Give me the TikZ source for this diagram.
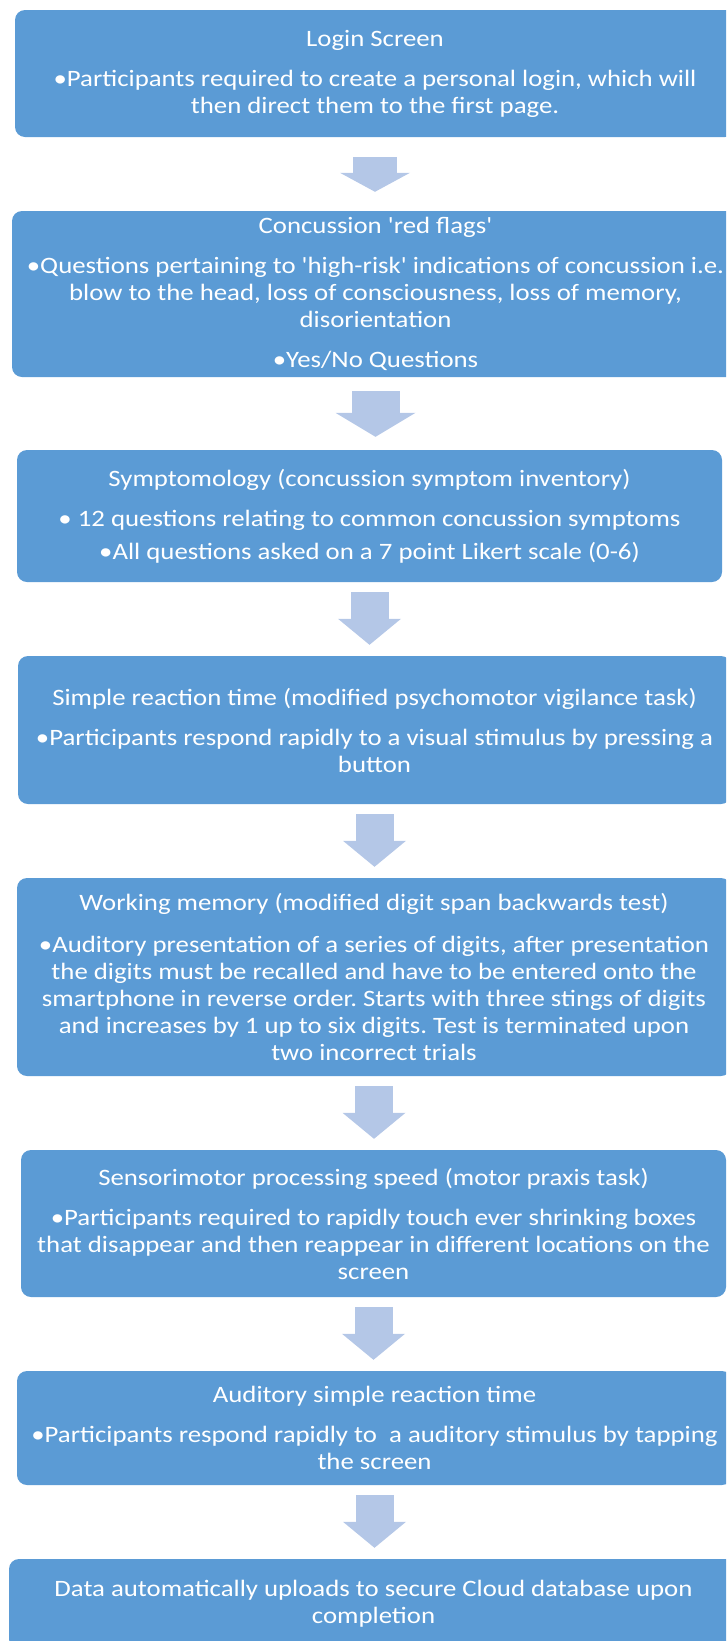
\documentclass[tikz,border=0pt]{standalone}
\usepackage{fontspec}
\setmainfont{Carlito}[Ligatures=TeXOff, FakeStretch=1.14]
\usetikzlibrary{arrows.meta}
\definecolor{boxblue}{RGB}{91,155,213}
\definecolor{arrowblue}{RGB}{180,199,231}
\frenchspacing

\begin{document}
\begin{tikzpicture}[x=1pt, y=-1pt,
	stage/.style={fill=boxblue, rounded corners=10pt, text=white, align=center, inner sep=0pt,
		font=\fontsize{23.5}{27}\selectfont},
	flow/.style={arrowblue, line width=38pt, line cap=butt,
		-{Triangle[width=63pt, length=26pt, line width=0pt]}, shorten <=10pt, shorten >=11pt}]
	\useasboundingbox (0,0) rectangle (726,1641);
	\clip (0,0) rectangle (726,1641);

	\node[stage, minimum width=720pt, minimum height=127pt] (login) at (375, 73.5)
		{Login Screen\\[13pt]
		•Participants required to create a personal login, which will\\
		then direct them to the first page.};
	\node[stage, minimum width=727pt, minimum height=166pt] (flags) at (375.5, 294)
		{Concussion 'red flags'\\[13pt]
		•Questions pertaining to 'high-risk' indications of concussion i.e.\hspace*{12pt}\\
		blow to the head, loss of consciousness, loss of memory,\\
		disorientation\\[13pt]
		•Yes/No Questions};
	\node[stage, minimum width=705pt, minimum height=132pt] (symptoms) at (369.5, 516)
		{Symptomology (concussion symptom inventory)\\[13pt]
		• 12 questions relating to common concussion symptoms\\[6pt]
		•All questions asked on a 7 point Likert scale (0-6)};
	\node[stage, minimum width=713pt, minimum height=148pt] (simple) at (374.5, 730)
		{Simple reaction time (modified psychomotor vigilance task)\\[13pt]
		•Participants respond rapidly to a visual stimulus by pressing a\\
		button};
	\node[stage, minimum width=714pt, minimum height=198pt] (memory) at (374, 977)
		{Working memory (modified digit span backwards test)\\[15pt]
		•Auditory presentation of a series of digits, after presentation\\
		the digits must be recalled and have to be entered onto the\\
		smartphone in reverse order. Starts with three stings of digits\\
		and increases by 1 up to six digits. Test is terminated upon\\
		two incorrect trials};
	\node[stage, minimum width=705pt, minimum height=147pt] (motor) at (373.5, 1223.5)
		{Sensorimotor processing speed (motor praxis task)\\[13pt]
		•Participants required to rapidly touch ever shrinking boxes\\
		that disappear and then reappear in different locations on the\\
		screen};
	\node[stage, minimum width=715pt, minimum height=114pt] (auditory) at (374.5, 1428)
		{Auditory simple reaction time\\[13pt]
		•Participants respond rapidly to\ \ a auditory stimulus by tapping\\
		the screen};
	\node[stage, minimum width=729pt, minimum height=90pt] (upload) at (373.5, 1604)
		{Data automatically uploads to secure Cloud database upon\\
		completion};

	\draw[flow, line width=44pt, -{Triangle[width=70pt, length=19pt, line width=0pt]},
		shorten <=20pt, shorten >=19pt] (login.south) -- (login.south |- flags.north);
	\draw[flow, line width=48pt, -{Triangle[width=80pt, length=24pt, line width=0pt]},
		shorten <=14pt, shorten >=13pt] (flags.south) -- (flags.south |- symptoms.north);
	\foreach \a/\b in {symptoms/simple, simple/memory, memory/motor, motor/auditory, auditory/upload}
		\draw[flow] (\a.south) -- (\a.south |- \b.north);
\end{tikzpicture}
\end{document}
